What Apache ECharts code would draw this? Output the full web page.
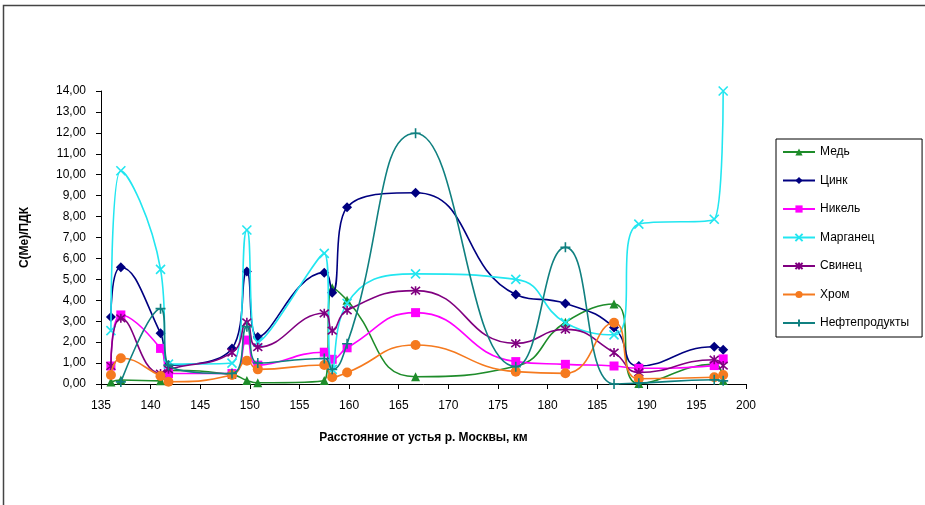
<!DOCTYPE html>
<html>
<head>
<meta charset="utf-8">
<script src="https://cdn.jsdelivr.net/npm/echarts@6/dist/echarts.min.js"></script>
<style>
html,body{margin:0;padding:0;background:#fff;}
#c{width:925px;height:505px;}
</style>
</head>
<body>
<div id="c"></div>
<script>
// Distance from the mouth of the Moskva river, km
var distances = [136, 137, 141, 141.8, 148.2, 149.7, 150.8, 157.5, 158.3, 159.8, 166.7, 176.8, 181.8, 186.7, 189.2, 196.8, 197.7];

var med      = [0.10, 0.19, 0.15, 0.65, 0.45, 0.17, 0.06, 0.17, 4.60, 4.00, 0.35, 0.85, 2.95, 3.82, 0.02, 0.95, 0.17];
var cink     = [3.20, 5.58, 2.42, 0.90, 1.70, 5.37, 2.25, 5.32, 4.36, 8.44, 9.14, 4.28, 3.85, 2.70, 0.86, 1.78, 1.64];
var nikel    = [0.86, 3.30, 1.70, 0.50, 0.50, 2.10, 0.90, 1.52, 1.18, 1.73, 3.41, 1.07, 0.94, 0.86, 0.75, 0.88, 1.20];
var marganec = [2.55, 10.19, 5.48, 0.95, 1.00, 7.36, 2.00, 6.24, 0.70, 3.85, 5.26, 5.00, 2.93, 2.35, 7.64, 7.87, 14.00];
var svinec   = [0.86, 3.14, 0.50, 0.70, 1.50, 2.95, 1.76, 3.38, 2.55, 3.52, 4.46, 1.94, 2.61, 1.50, 0.55, 1.16, 0.88];
var hrom     = [0.43, 1.23, 0.38, 0.11, 0.43, 1.11, 0.70, 0.91, 0.32, 0.55, 1.86, 0.59, 0.51, 2.93, 0.25, 0.32, 0.43];
var neft     = [null, 0.10, 3.60, 0.90, 0.50, 2.74, 1.00, 1.22, 0.70, 1.92, 11.98, 0.83, 6.53, 0.00, 0.04, 0.20, 0.15];

var seriesNames = ['Медь', 'Цинк', 'Никель', 'Марганец', 'Свинец', 'Хром', 'Нефтепродукты'];
var seriesValues = [med, cink, nikel, marganec, svinec, hrom, neft];

var xTicks = {min: 135, max: 200, step: 5};
var yTicks = {min: 0, max: 14, step: 1};

var styles = [
  {color: '#1e8c2a', symbol: 'triangle', size: 9, stroke: false},
  {color: '#000080', symbol: 'diamond', size: 10, stroke: false},
  {color: '#ff00ff', symbol: 'rect', size: 9, stroke: false},
  {color: '#22e6f0', symbol: 'path://M0,0L10,10M10,0L0,10', size: 9, stroke: true},
  {color: '#800080', symbol: 'path://M0,0L10,10M10,0L0,10M5,-1L5,11', size: 9, stroke: true},
  {color: '#f57a1f', symbol: 'circle', size: 10, stroke: false},
  {color: '#108080', symbol: 'path://M5,0L5,10M0,5L10,5', size: 10, stroke: true}
];

function pairs(vals) {
  var out = [];
  for (var i = 0; i < distances.length; i++) {
    if (vals[i] !== null) out.push([distances[i], vals[i]]);
  }
  return out;
}

var series = seriesNames.map(function (name, i) {
  var s = styles[i];
  return {
    name: name,
    type: 'line',
    smooth: 0.5,
    data: pairs(seriesValues[i]),
    symbol: s.symbol,
    symbolSize: s.size,
    showSymbol: true,
    lineStyle: {color: s.color, width: 1.6},
    itemStyle: {color: s.color, borderColor: s.color, borderWidth: s.stroke ? 1.6 : 0},
    emphasis: {disabled: true},
    animation: false,
    z: 2 + i
  };
});

var chart = echarts.init(document.getElementById('c'), null, {renderer: 'canvas'});
var fontFam = '"Liberation Sans", Arial, sans-serif';
chart.setOption({
  animation: false,
  backgroundColor: '#ffffff',
  textStyle: {fontFamily: fontFam},
  graphic: [{
    type: 'rect',
    shape: {x: 3.5, y: 5.5, width: 930, height: 520},
    style: {fill: 'none', stroke: '#444', lineWidth: 1.5},
    silent: true, z: 0
  }],
  grid: {left: 101, top: 91, right: 179, bottom: 121, containLabel: false},
  legend: {
    orient: 'vertical',
    left: 776,
    top: 139,
    padding: [7, 13, 8, 6],
    itemGap: 16.5,
    itemWidth: 32,
    itemHeight: 9,
    borderColor: '#000',
    borderWidth: 1,
    backgroundColor: '#fff',
    textStyle: {fontSize: 12, color: '#000', fontFamily: fontFam},
    data: seriesNames
  },
  xAxis: {
    type: 'value',
    min: xTicks.min, max: xTicks.max, interval: xTicks.step,
    name: 'Расстояние от устья р. Москвы, км',
    nameLocation: 'middle',
    nameGap: 48,
    nameTextStyle: {fontSize: 12, fontWeight: 'bold', color: '#000', fontFamily: fontFam},
    axisLine: {onZero: false, lineStyle: {color: '#000', width: 1}},
    axisTick: {show: true, inside: false, length: 5, lineStyle: {color: '#000'}},
    axisLabel: {fontSize: 12, color: '#000', margin: 16, fontFamily: fontFam},
    splitLine: {show: false}
  },
  yAxis: {
    type: 'value',
    min: yTicks.min, max: yTicks.max, interval: yTicks.step,
    name: 'С(Ме)/ПДК',
    nameLocation: 'middle',
    nameRotate: 90,
    nameGap: 70,
    nameTextStyle: {fontSize: 12, fontWeight: 'bold', color: '#000', fontFamily: fontFam},
    axisLine: {show: true, lineStyle: {color: '#000', width: 1}},
    axisTick: {show: true, inside: false, length: 5, lineStyle: {color: '#000'}},
    axisLabel: {
      fontSize: 12, color: '#000', margin: 15, fontFamily: fontFam,
      formatter: function (v) { return v.toFixed(2).replace('.', ','); }
    },
    splitLine: {show: false}
  },
  series: series
});
</script>
</body>
</html>
